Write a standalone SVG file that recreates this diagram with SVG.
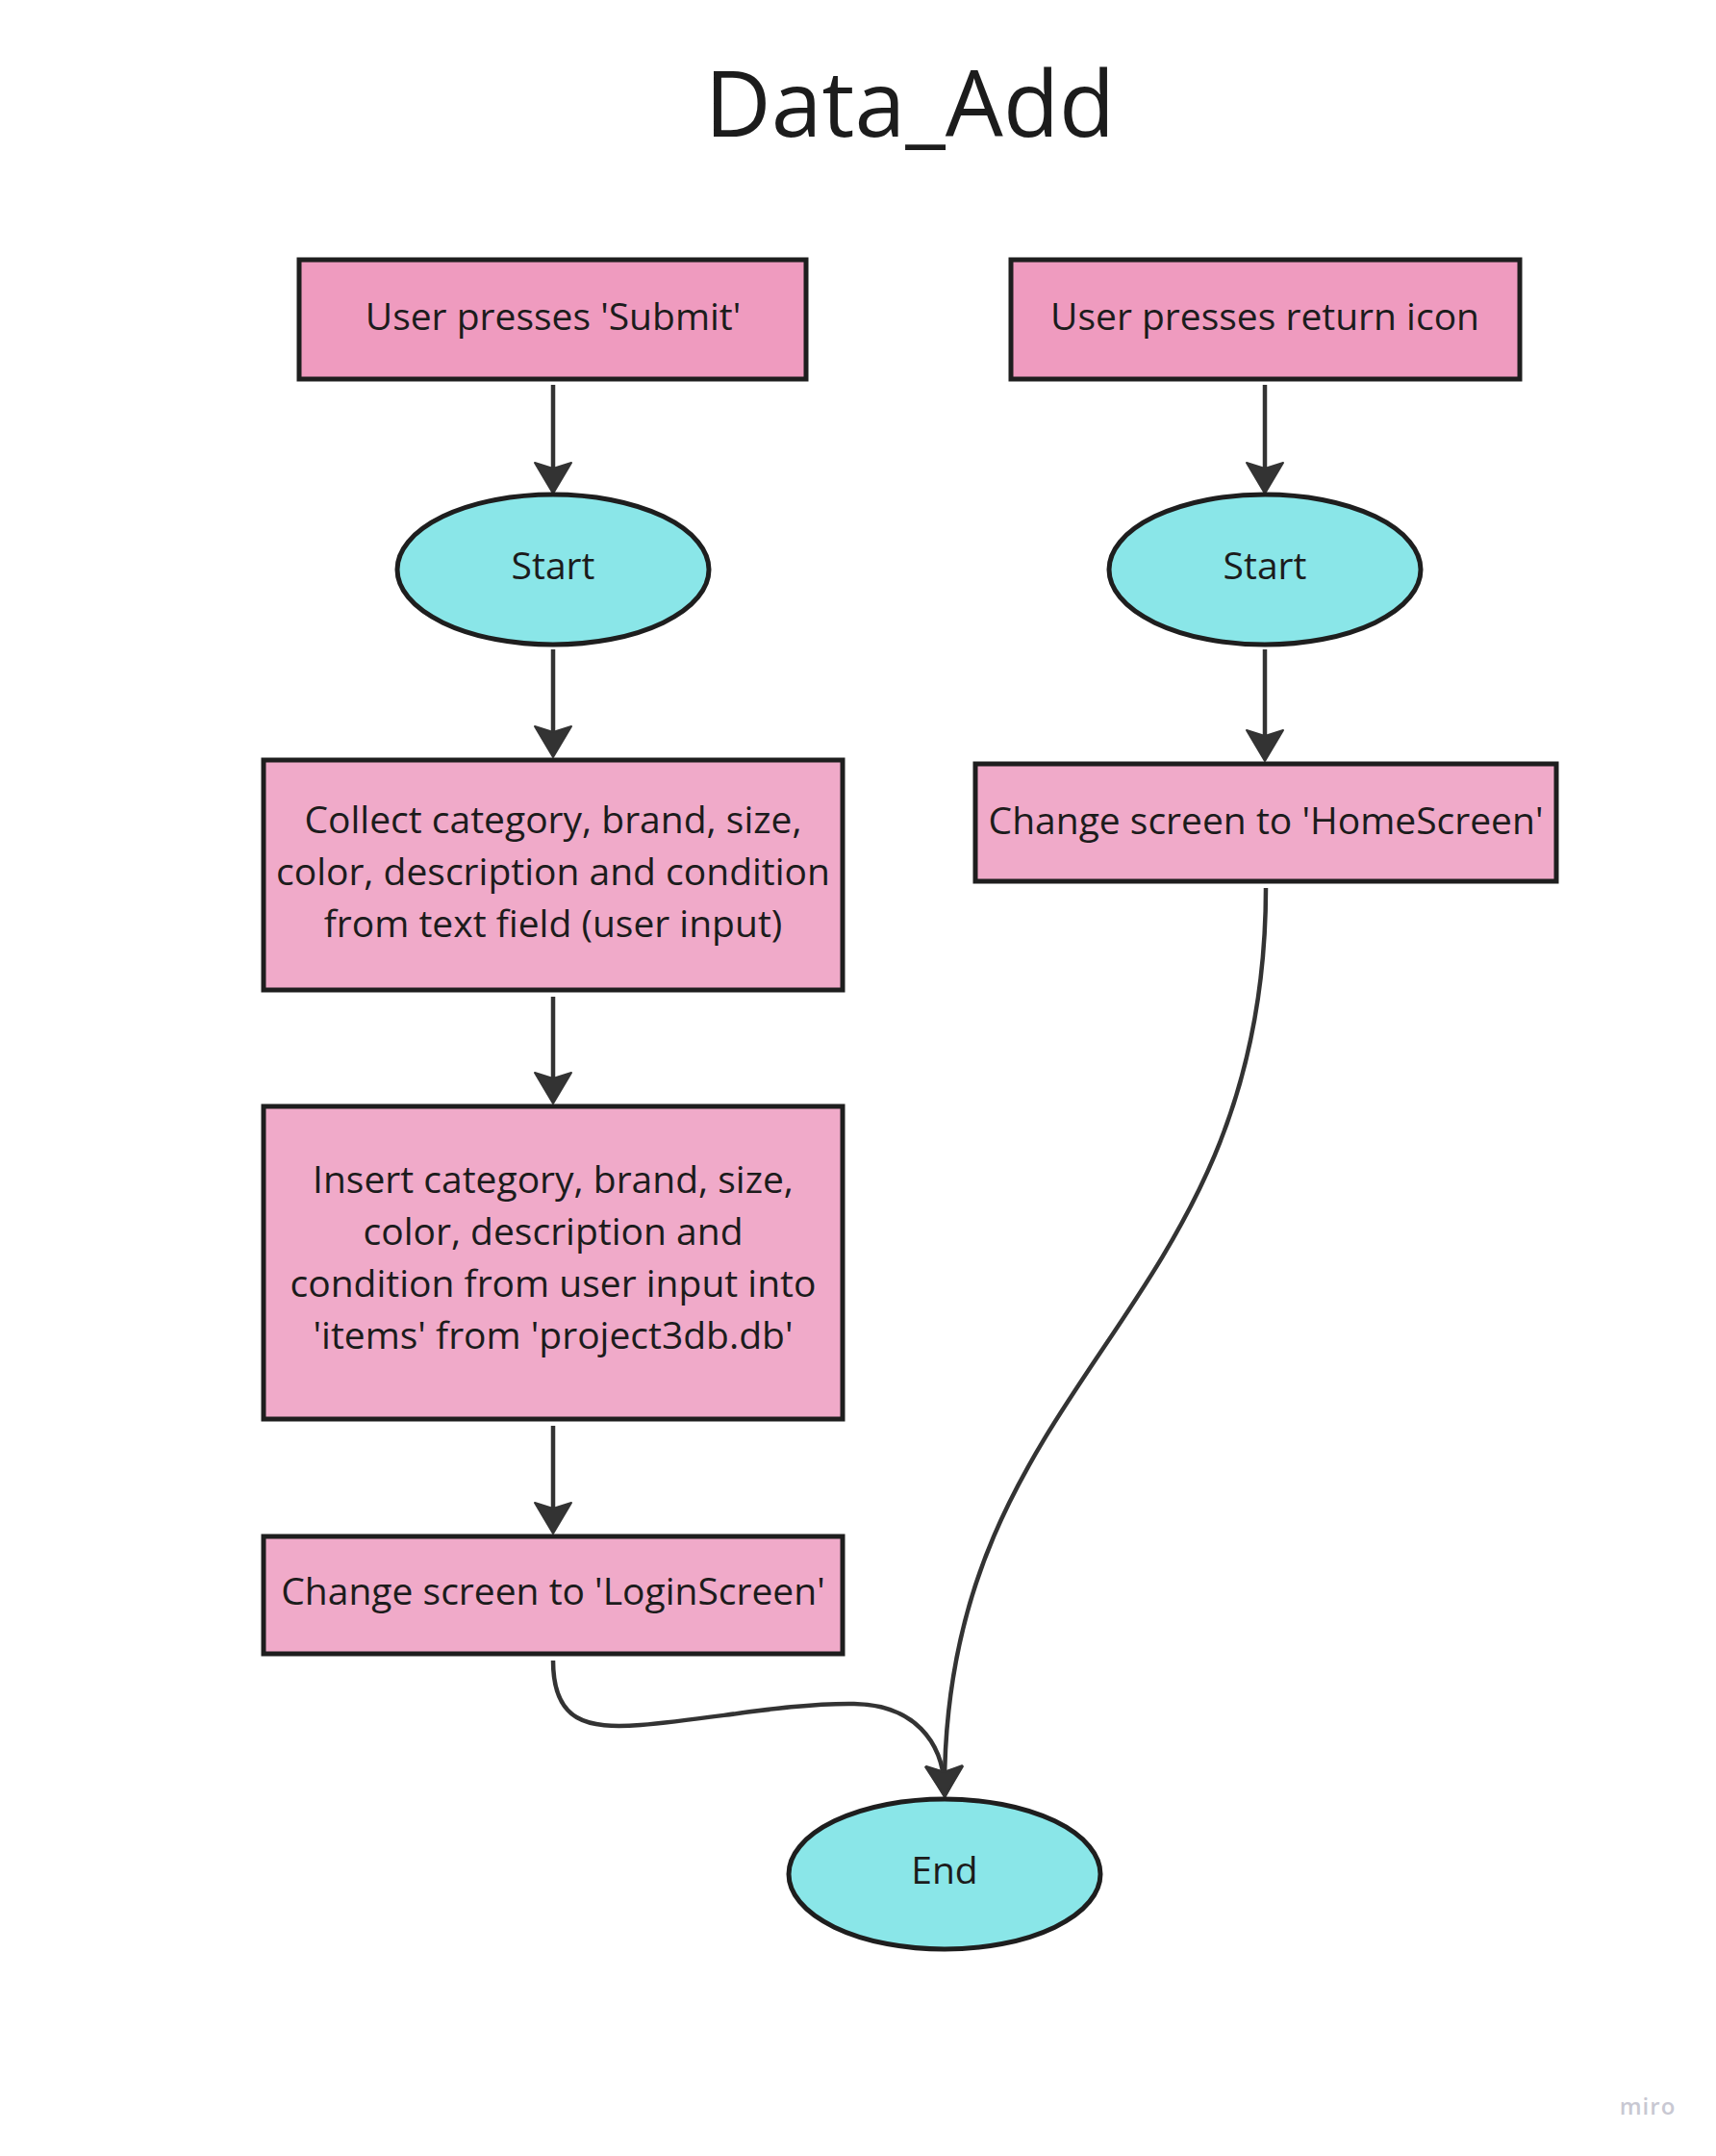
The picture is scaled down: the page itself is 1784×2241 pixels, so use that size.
<svg xmlns="http://www.w3.org/2000/svg" width="1784" height="2241" viewBox="0 0 1784 2241">
<style>
.t{font-family:"Open Sans","Noto Sans","Liberation Sans",sans-serif;fill:#1c1c1c;text-anchor:middle}
.n{font-size:39px}
.box1{fill:#ef9bbf;stroke:#1e1e1e;stroke-width:5}
.box2{fill:#f0aac9;stroke:#1e1e1e;stroke-width:5}
.ell{fill:#8ae6e8;stroke:#1e1e1e;stroke-width:5}
.c{fill:none;stroke:#333333;stroke-width:4.5;marker-end:url(#ah)}
</style>
<defs>
<marker id="ah" markerUnits="userSpaceOnUse" viewBox="0 0 44 44" markerWidth="44" markerHeight="44" refX="26" refY="22" orient="auto">
<path d="M36,22 L4,3 L10,22 L4,41 Z" fill="#333333" stroke="#333333" stroke-width="2" stroke-linejoin="round"/>
</marker>
</defs>
<rect width="1784" height="2241" fill="#ffffff"/>
<text class="t" x="946" y="142" font-size="95">Data_Add</text>
<g id="connectors">
<path class="c" d="M575,400 V503"/>
<path class="c" d="M575,675 V777"/>
<path class="c" d="M575,1036 V1137"/>
<path class="c" d="M575,1482 V1584"/>
<path class="c" d="M1315,400 V503"/>
<path class="c" d="M1315,675 V781"/>
<path class="c" d="M1316,923 C1316,1372 982,1430 982,1858"/>
<path class="c" d="M575,1726 C575,1790 610,1797 666,1793 C740,1787 820,1770 888,1771 C950,1772 980,1810 982,1858"/>
</g>
<g id="submit">
<rect class="box1" x="311" y="270" width="527" height="124"/>
<text class="t n" x="575" y="343">User presses 'Submit'</text>
</g>
<g id="return">
<rect class="box1" x="1051" y="270" width="529" height="124"/>
<text class="t n" x="1315" y="343">User presses return icon</text>
</g>
<g id="start1">
<ellipse class="ell" cx="575" cy="592" rx="162" ry="78"/>
<text class="t n" x="575" y="602">Start</text>
</g>
<g id="start2">
<ellipse class="ell" cx="1315" cy="592" rx="162" ry="78"/>
<text class="t n" x="1315" y="602">Start</text>
</g>
<g id="collect">
<rect class="box2" x="274" y="790" width="602" height="239"/>
<text class="t n" x="575" y="866">Collect category, brand, size,</text>
<text class="t n" x="575" y="920">color, description and condition</text>
<text class="t n" x="575" y="974">from text field (user input)</text>
</g>
<g id="home">
<rect class="box2" x="1014" y="794" width="604" height="122"/>
<text class="t n" x="1316" y="867">Change screen to 'HomeScreen'</text>
</g>
<g id="insert">
<rect class="box2" x="274" y="1150" width="602" height="325"/>
<text class="t n" x="575" y="1240">Insert category, brand, size,</text>
<text class="t n" x="575" y="1294">color, description and</text>
<text class="t n" x="575" y="1348">condition from user input into</text>
<text class="t n" x="575" y="1402">'items' from 'project3db.db'</text>
</g>
<g id="login">
<rect class="box2" x="274" y="1597" width="602" height="122"/>
<text class="t n" x="575" y="1668">Change screen to 'LoginScreen'</text>
</g>
<g id="end">
<ellipse class="ell" cx="982" cy="1948" rx="162" ry="78"/>
<text class="t n" x="982" y="1958">End</text>
</g>
<text x="1713" y="2198" font-family="Open Sans, sans-serif" font-size="24" font-weight="600" fill="#c8c8d2" text-anchor="middle" letter-spacing="1">miro</text>
</svg>
